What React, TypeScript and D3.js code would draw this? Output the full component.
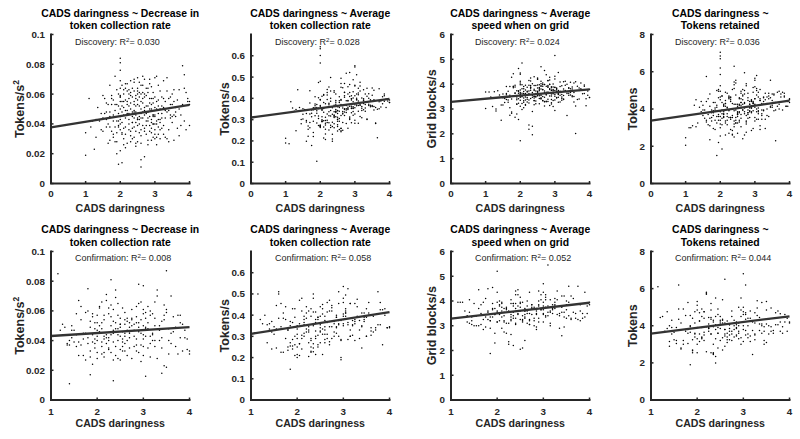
import React from 'react';
import * as d3 from 'd3';

// ---------- DATA ----------
// Discovery sample: CADS daringness (shared x for the top row)
const X_DISC = [
2.45,1.95,2.80,3.10,2.25,1.70,2.60,3.45,2.05,2.90,1.30,2.35,3.00,2.70,1.85,2.15,3.25,2.50,4.00,2.00,
2.65,3.55,1.60,2.30,2.85,2.10,3.15,1.00,2.40,2.95,2.20,3.70,1.90,2.55,3.05,2.75,1.45,2.00,3.35,2.45,
1.80,2.60,3.20,2.35,2.90,3.85,2.15,1.65,2.70,3.00,2.50,2.05,3.40,1.95,2.80,2.25,3.60,2.40,1.10,2.85,
3.10,2.00,2.55,1.75,2.95,3.30,2.20,2.65,3.95,1.85,2.45,3.15,2.10,2.75,1.50,3.50,2.30,2.90,2.60,2.00,
2.35,3.05,1.90,2.80,2.15,3.25,2.50,1.70,3.75,2.70,2.00,2.95,3.40,2.25,1.35,2.60,3.00,2.40,2.85,1.80,
3.20,2.55,2.05,3.65,2.75,1.95,2.30,3.10,2.45,1.60,2.90,3.55,2.10,2.65,4.00,2.20,1.85,3.00,2.50,3.35,
2.00,2.80,1.25,2.40,3.15,2.60,1.75,2.95,3.80,2.25,2.70,2.05,3.45,1.90,2.55,3.05,2.35,1.55,2.85,3.25,
2.15,2.65,3.50,1.95,2.45,3.00,2.20,3.90,1.70,2.75,2.50,3.30,2.00,2.90,1.40,3.10,2.30,2.60,3.60,2.10,
2.85,1.80,2.40,3.20,2.55,2.00,3.70,2.25,1.65,2.95,2.70,3.15,2.05,1.00,2.50,3.40,2.35,2.80,1.90,3.05,
2.60,2.15,3.35,1.75,2.45,2.90,3.85,2.00,2.65,1.50,3.25,2.30,2.75,3.00,2.10,1.95,3.55,2.50,2.20,4.00,
1.85,2.70,3.10,2.40,2.00,3.45,2.55,1.60,2.85,3.20,2.25,2.95,1.70,3.65,2.35,2.60,3.00,2.05,1.20,2.80,
3.30,2.15,2.50,1.90,3.05,2.65,2.00,3.75,2.40,1.80,2.90,3.15,2.30,2.70,1.55,3.50,2.10,2.45,3.95,2.60,
2.20,3.00,1.95,2.75,3.40,2.50,2.05,1.45,2.85,3.25,2.35,2.60,3.80,1.75,2.95,2.15,3.10,2.40,2.00,3.60,
2.55,1.85,3.20,2.30,2.80,1.65,3.05,2.45,2.00,3.35,2.70,2.10,1.30,2.90,3.55,2.25,2.65,3.00,1.90,2.50,
3.15,2.40,1.70,2.85,2.05,3.45,2.60,2.20,3.90,1.95,2.75,3.10,2.35,1.50,2.95,3.30,2.15,2.55,2.00,3.70,
2.30,2.90,1.80,3.05,2.50,2.10,3.25,2.65,1.15,2.80,3.50,2.45,2.00,3.00,2.70,1.60,3.85,2.25,2.95,2.40];

const DISC_DECREASE = [
.052,.038,.061,.033,.047,.029,.055,.044,.066,.041,.031,.058,.036,.049,.053,.024,.057,.043,.039,.081,
.044,.063,.048,.035,.070,.051,.030,.034,.062,.046,.027,.050,.042,.068,.055,.039,.036,.059,.048,.041,
.056,.032,.052,.045,.037,.073,.064,.040,.058,.049,.071,.033,.057,.047,.026,.060,.045,.038,.057,.054,
.066,.045,.040,.035,.061,.031,.053,.072,.055,.028,.048,.043,.037,.052,.044,.060,.069,.034,.047,.022,
.041,.050,.063,.029,.056,.039,.062,.048,.046,.035,.076,.057,.028,.043,.051,.066,.030,.053,.045,.031,
.047,.058,.041,.037,.064,.052,.032,.056,.025,.043,.050,.046,.060,.039,.055,.049,.038,.071,.044,.062,
.084,.042,.023,.055,.036,.027,.057,.045,.079,.063,.051,.034,.053,.020,.061,.042,.048,.057,.067,.033,
.044,.054,.041,.060,.035,.040,.067,.061,.045,.047,.028,.055,.050,.065,.042,.038,.059,.016,.051,.030,
.039,.046,.070,.044,.052,.058,.063,.036,.027,.054,.046,.062,.048,.019,.060,.036,.030,.044,.034,.072,
.050,.067,.030,.053,.046,.029,.042,.040,.061,.035,.050,.054,.033,.058,.026,.042,.055,.039,.047,.053,
.049,.060,.052,.031,.036,.058,.043,.054,.050,.037,.052,.040,.066,.056,.064,.011,.045,.055,.042,.064,
.044,.038,.053,.053,.031,.048,.069,.039,.044,.033,.057,.050,.028,.070,.047,.053,.063,.059,.057,.036,
.055,.033,.039,.042,.049,.056,.014,.047,.035,.051,.041,.060,.053,.059,.046,.033,.043,.068,.064,.048,
.034,.072,.058,.050,.048,.053,.026,.057,.043,.071,.037,.055,.043,.053,.029,.040,.066,.051,.028,.043,
.041,.048,.038,.057,.052,.046,.044,.062,.036,.013,.059,.047,.037,.059,.031,.049,.049,.045,.058,.032,
.061,.043,.042,.040,.064,.046,.069,.057,.038,.052,.045,.027,.055,.046,.018,.038,.064,.057,.040,.049];

const DISC_RATE = [
.382,.305,.421,.448,.337,.262,.395,.361,.290,.412,.248,.356,.327,.470,.318,.232,.389,.343,.392,.275,
.365,.438,.296,.401,.312,.352,.476,.213,.281,.384,.427,.351,.330,.293,.365,.518,.281,.392,.410,.338,
.347,.452,.309,.268,.398,.421,.375,.222,.336,.547,.302,.410,.372,.272,.455,.318,.357,.436,.187,.301,
.388,.480,.254,.345,.431,.371,.297,.355,.398,.356,.420,.315,.265,.389,.325,.449,.343,.285,.494,.270,
.325,.401,.371,.358,.207,.346,.292,.378,.387,.427,.633,.355,.400,.377,.440,.260,.412,.322,.363,.221,
.354,.381,.294,.215,.351,.403,.498,.366,.314,.198,.332,.362,.415,.250,.380,.286,.408,.461,.342,.303,
.601,.352,.340,.262,.434,.391,.178,.361,.407,.453,.319,.292,.368,.105,.408,.374,.231,.348,.521,.392,
.283,.330,.415,.475,.372,.356,.416,.397,.327,.367,.247,.340,.270,.352,.357,.425,.386,.248,.282,.335,
.409,.292,.337,.362,.340,.566,.384,.285,.255,.402,.351,.368,.300,.190,.360,.422,.199,.390,.284,.511,
.320,.275,.447,.314,.390,.398,.386,.263,.450,.351,.376,.263,.345,.458,.214,.353,.345,.301,.442,.380,
.365,.429,.340,.316,.642,.393,.357,.289,.465,.343,.251,.321,.436,.349,.288,.371,.553,.314,.355,.387,
.355,.296,.276,.342,.420,.338,.271,.359,.318,.240,.392,.458,.274,.348,.347,.362,.381,.334,.387,.243,
.395,.370,.317,.282,.366,.311,.344,.301,.428,.398,.361,.258,.375,.330,.487,.311,.283,.368,.268,.284,
.305,.374,.402,.434,.260,.270,.394,.348,.366,.301,.405,.295,.348,.363,.393,.372,.327,.283,.357,.268,
.370,.429,.286,.307,.348,.388,.470,.327,.357,.352,.334,.417,.209,.303,.352,.420,.255,.389,.360,.445,
.317,.355,.356,.393,.329,.418,.440,.286,.384,.348,.367,.340,.395,.297,.412,.329,.412,.363,.338,.310];

const DISC_SPEED = [
3.72,3.41,3.95,3.58,3.24,3.05,4.12,3.66,3.82,3.38,2.92,3.55,4.21,3.47,3.89,3.15,3.71,3.97,3.80,4.05,
3.33,4.05,3.62,3.88,3.52,3.27,3.91,3.02,4.30,3.64,3.46,3.75,2.80,3.98,3.44,4.38,2.55,3.56,3.69,3.21,
3.90,3.60,3.35,4.02,3.76,3.92,3.18,3.36,4.55,3.51,3.85,2.98,3.63,4.63,3.30,3.72,4.10,3.44,3.68,3.99,
3.47,3.11,3.84,4.28,3.61,3.96,3.39,3.78,3.55,2.67,3.32,4.09,3.70,3.57,3.16,3.49,4.13,3.25,3.93,4.45,
3.58,3.82,3.20,4.15,3.62,3.40,3.71,3.48,3.82,3.30,3.66,3.89,3.55,2.36,3.73,4.02,3.36,3.80,3.14,3.53,
3.94,3.42,4.85,3.38,3.67,3.23,3.84,4.47,3.59,3.57,3.20,3.66,3.91,3.50,3.46,3.28,3.96,3.75,4.20,3.62,
3.51,3.88,3.69,3.17,3.55,4.70,2.88,3.74,3.61,3.96,3.12,3.52,4.08,3.44,3.73,3.85,2.90,3.26,4.00,3.38,
3.36,3.92,3.81,3.70,3.48,4.32,3.57,3.13,3.91,3.29,3.65,3.75,1.72,3.90,3.56,3.61,4.25,3.40,2.01,3.62,
3.79,4.42,3.33,3.58,3.87,3.47,3.40,4.15,3.71,3.10,3.99,3.66,3.22,3.68,3.53,3.86,3.47,4.14,3.37,3.71,
3.44,3.77,4.00,2.83,3.95,3.52,3.97,4.40,3.34,3.60,4.10,3.88,3.57,2.94,3.82,3.63,3.28,4.25,3.71,3.46,
3.63,3.29,3.74,3.95,3.98,3.56,3.21,3.91,3.82,3.48,3.36,4.01,2.75,3.92,3.66,3.54,5.15,3.49,3.10,3.39,
4.12,3.59,4.21,3.73,3.46,3.79,3.35,4.05,3.50,3.86,3.60,3.28,3.95,3.72,3.42,3.89,3.05,3.62,3.72,3.93,
3.88,3.58,2.58,3.31,3.84,3.69,3.98,3.16,4.28,3.54,1.96,3.81,3.77,3.40,3.67,3.48,3.27,3.74,3.61,3.12,
3.53,3.64,3.42,3.76,3.90,3.27,3.80,3.50,4.12,2.74,3.99,3.33,3.00,3.76,3.50,3.62,4.05,3.87,3.19,3.58,
3.71,3.34,3.55,4.17,3.63,3.82,3.43,3.68,3.41,3.73,3.92,3.64,2.31,3.45,3.34,3.71,3.96,3.78,3.56,3.85,
3.42,3.86,3.92,3.71,3.54,3.44,3.81,3.99,3.48,3.68,3.53,3.60,3.77,3.88,3.65,3.38,3.62,2.18,3.79,3.51];

const DISC_TOKENS = [
4.25,3.60,4.85,3.45,3.90,3.10,4.55,4.15,4.70,3.80,3.05,4.30,5.20,4.05,2.90,3.35,4.60,3.70,4.35,5.85,
3.95,4.80,3.30,4.60,3.55,4.20,4.45,2.45,3.20,4.90,3.75,4.95,4.10,3.40,5.10,2.75,3.85,4.50,4.00,3.25,
3.65,4.35,3.95,2.60,4.40,4.70,4.90,3.15,3.75,5.55,4.05,3.50,4.85,2.20,3.70,4.55,3.95,3.35,3.00,4.25,
4.65,3.20,4.20,3.80,4.15,2.95,3.60,4.75,4.40,4.35,3.55,5.05,4.25,3.30,3.65,4.10,4.50,2.85,4.85,3.40,
4.00,3.85,5.00,3.50,4.45,3.90,2.70,4.15,4.80,3.85,6.85,4.30,3.60,4.65,3.25,4.95,3.35,5.45,4.05,2.95,
3.75,4.60,3.15,4.15,5.25,3.70,4.40,3.90,3.25,4.40,4.05,4.75,3.60,2.40,4.55,4.85,3.95,3.55,4.15,4.30,
6.70,3.80,4.20,2.50,4.45,4.20,3.35,5.15,3.95,4.70,4.30,3.75,4.10,1.50,4.55,3.45,5.05,3.50,3.85,4.25,
3.25,4.50,4.45,5.05,3.95,4.25,3.40,4.15,2.35,5.35,3.70,3.45,4.65,3.85,4.10,4.90,3.45,4.05,2.30,3.55,
4.40,3.90,5.30,3.65,3.30,6.20,4.00,3.55,4.55,4.30,5.00,3.10,4.70,2.05,3.85,4.55,2.85,3.95,3.60,4.75,
3.70,2.60,4.65,3.55,5.55,4.05,4.85,3.00,4.25,3.95,4.40,4.65,3.20,4.20,3.75,4.95,4.35,3.80,4.05,4.50,
3.40,4.80,3.85,3.05,7.05,4.60,4.25,5.75,4.10,3.45,4.60,3.90,4.80,4.90,2.65,3.50,5.65,4.35,3.10,3.80,
4.85,4.30,3.60,4.20,5.80,3.95,3.60,4.65,4.25,3.80,4.50,2.90,3.55,5.95,3.95,4.20,3.70,4.75,4.15,3.05,
4.10,4.55,3.40,3.65,4.70,3.25,1.85,4.40,3.90,4.65,3.55,4.10,4.90,3.95,4.35,4.30,3.75,6.30,4.95,4.35,
3.85,4.05,4.30,2.90,4.60,3.70,4.00,5.40,3.85,3.65,4.35,4.15,4.50,4.45,3.90,2.70,5.05,4.55,3.25,3.75,
4.55,3.90,3.50,4.25,3.95,5.55,4.35,3.15,4.15,4.60,3.35,4.05,3.65,4.20,2.95,4.50,4.15,3.80,2.55,4.25,
3.55,4.15,4.35,5.00,4.25,3.85,3.95,4.70,3.00,4.45,4.80,3.40,5.25,4.10,2.60,3.40,4.65,3.95,4.40,5.10];

// Confirmation sample: CADS daringness (shared x for the bottom row)
const X_CONF = [
2.25,1.85,3.00,2.60,1.40,3.35,2.10,2.75,3.80,1.95,2.40,3.15,2.55,1.65,2.90,3.50,2.20,1.15,2.70,3.05,
2.35,3.25,1.75,2.50,2.95,2.00,3.60,2.30,1.50,2.85,3.10,2.15,3.95,1.90,2.65,2.45,3.40,1.30,2.80,2.05,
3.20,2.40,1.80,2.70,3.55,2.25,1.60,2.95,2.10,3.00,2.55,3.75,1.45,2.35,3.30,2.60,2.00,3.85,2.85,1.70,
2.20,3.05,2.50,1.95,3.45,2.75,1.35,2.30,3.15,2.05,2.90,3.65,1.85,2.45,3.00,2.65,1.55,3.25,2.15,4.00,
2.80,1.90,2.35,3.50,2.60,1.45,3.10,2.25,2.95,1.75,3.40,2.50,2.00,3.90,2.70,1.60,2.40,3.20,2.10,2.85,
3.00,2.15,1.65,2.55,3.35,2.30,3.70,1.80,2.75,2.40,3.15,1.25,2.60,3.55,2.05,2.90,2.20,3.05,1.95,3.45,
2.45,3.25,1.85,2.65,2.00,3.00,2.35,1.40,3.80,2.55,2.10,3.30,2.80,1.70,2.95,2.25,3.60,2.50,1.90,3.10,
2.30,2.85,3.50,1.55,2.40,3.05,2.15,2.70,1.80,3.40,2.60,3.95,2.05,2.90,1.50,2.35,3.20,2.50,3.75,2.00,
2.65,1.95,3.15,2.25,2.80,1.60,3.45,2.40,3.00,2.10,1.35,2.75,3.65,2.30,2.55,3.25,1.85,2.95,2.20,3.85,
2.50,3.10,1.75,2.35,3.55,2.70,2.00,1.45,3.30,2.60,2.15,2.90,3.70,1.90,2.45,3.05,2.25,1.65,2.85,3.40,
2.40,1.80,3.20,2.55,2.05,3.00,2.70,1.20,3.50,2.30,2.85,2.10,3.90,1.95,2.65,3.15,2.45,1.70,3.35,2.20,
3.05,2.35,1.85,2.75,3.60,2.50,2.00,3.25,1.55,2.90,2.15,3.45,2.60,1.40,3.00,2.30,3.80,2.45,1.90,4.00];

const CONF_DECREASE = [
.062,.017,.058,.033,.011,.040,.048,.054,.052,.035,.069,.029,.046,.063,.078,.087,.038,.085,.042,.016,
.013,.055,.045,.051,.037,.028,.070,.081,.039,.052,.063,.043,.041,.056,.030,.065,.018,.049,.036,.046,
.045,.036,.075,.049,.031,.058,.039,.026,.052,.044,.062,.057,.050,.027,.074,.038,.032,.033,.041,.045,
.067,.048,.034,.041,.023,.055,.038,.044,.060,.063,.032,.046,.053,.040,.077,.047,.058,.036,.029,.031,
.051,.024,.047,.061,.059,.042,.035,.040,.066,.027,.053,.043,.057,.042,.052,.067,.030,.040,.036,.056,
.030,.054,.037,.041,.047,.064,.049,.060,.028,.046,.043,.051,.054,.040,.045,.049,.071,.055,.038,.064,
.028,.040,.049,.055,.043,.036,.061,.040,.042,.033,.039,.070,.047,.030,.054,.042,.045,.051,.058,.048,
.050,.037,.022,.044,.074,.059,.032,.046,.042,.035,.051,.034,.062,.052,.047,.039,.058,.027,.031,.047,
.040,.052,.057,.035,.043,.030,.057,.052,.041,.066,.037,.061,.056,.046,.036,.050,.029,.045,.042,.051,
.055,.052,.059,.053,.048,.045,.040,.047,.028,.043,.057,.065,.036,.039,.044,.049,.034,.054,.033,.042,
.048,.038,.044,.039,.050,.061,.035,.047,.059,.056,.063,.031,.047,.048,.053,.038,.057,.041,.050,.044,
.043,.045,.033,.050,.038,.049,.052,.066,.036,.046,.041,.054,.045,.037,.050,.032,.057,.048,.044,.033];

const CONF_RATE = [
.345,.255,.480,.395,.360,.290,.305,.420,.460,.210,.380,.330,.450,.225,.510,.300,.410,.500,.275,.420,
.228,.370,.440,.325,.285,.250,.340,.430,.310,.400,.525,.365,.340,.240,.460,.390,.245,.400,.300,.360,
.355,.300,.250,.470,.400,.205,.510,.280,.350,.395,.215,.355,.370,.480,.440,.310,.335,.260,.390,.225,
.320,.410,.270,.430,.380,.345,.270,.395,.300,.470,.360,.320,.145,.250,.535,.290,.335,.455,.380,.345,
.370,.255,.500,.430,.330,.320,.285,.420,.200,.380,.410,.355,.290,.400,.260,.500,.215,.350,.240,.340,
.405,.395,.455,.310,.375,.290,.340,.235,.435,.415,.300,.360,.270,.460,.210,.355,.335,.495,.390,.390,
.390,.360,.350,.415,.200,.460,.245,.325,.425,.335,.290,.395,.320,.410,.375,.330,.305,.440,.285,.355,
.230,.390,.300,.445,.365,.410,.300,.370,.330,.345,.375,.340,.265,.455,.345,.415,.375,.320,.510,.215,
.310,.260,.455,.270,.360,.385,.370,.325,.350,.480,.355,.290,.395,.225,.405,.380,.270,.190,.440,.425,
.340,.365,.290,.350,.410,.420,.310,.240,.475,.285,.355,.300,.330,.365,.380,.430,.320,.345,.345,.350,
.290,.330,.305,.430,.265,.380,.345,.380,.390,.280,.315,.420,.430,.300,.365,.455,.260,.385,.330,.385,
.395,.265,.370,.445,.325,.395,.350,.280,.245,.375,.315,.410,.345,.335,.360,.250,.355,.305,.430,.340];

const CONF_SPEED = [
3.55,3.20,4.35,3.70,4.05,2.90,3.35,3.85,3.60,2.70,4.25,3.10,3.95,3.05,4.40,3.30,3.75,3.95,3.20,4.15,
3.40,3.95,2.95,3.60,4.25,3.15,3.25,4.05,3.90,3.45,5.45,3.55,3.80,4.55,3.10,4.45,2.60,3.60,3.75,3.45,
3.85,3.05,4.50,3.50,3.40,2.25,3.70,4.05,3.95,3.80,2.10,4.60,3.35,3.90,4.40,3.30,3.15,3.50,2.95,3.25,
3.65,3.35,3.90,2.30,4.20,3.70,3.15,2.65,3.55,4.00,3.30,4.10,1.88,3.45,4.70,3.60,3.40,3.85,3.20,3.95,
3.20,3.35,3.55,4.00,3.45,3.05,3.80,2.35,3.70,4.10,3.55,3.25,3.95,3.35,4.35,4.45,3.10,3.65,3.75,3.50,
3.95,3.70,3.85,3.15,3.40,3.90,3.50,3.25,3.75,3.30,3.00,3.95,3.60,4.60,3.20,3.80,2.70,4.25,3.45,3.35,
3.50,3.70,3.20,4.00,5.20,3.45,3.30,3.55,3.85,3.25,3.60,4.05,3.00,3.95,3.65,3.55,4.20,3.95,3.70,3.40,
3.25,3.60,3.85,3.40,4.40,3.75,3.15,3.05,3.60,4.20,3.35,3.50,3.80,3.15,3.00,2.20,3.50,2.05,3.25,4.35,
3.80,3.45,4.05,3.60,3.30,3.00,2.95,3.70,3.15,3.90,3.40,3.85,3.55,3.20,3.40,4.10,2.90,3.65,3.70,3.30,
4.15,3.55,3.35,3.80,3.95,3.25,3.60,3.20,3.45,3.60,2.75,4.00,3.30,3.90,3.60,3.40,3.10,3.50,2.85,3.75,
3.90,3.55,3.70,3.20,3.85,3.50,3.05,3.95,3.65,3.35,3.70,2.90,4.35,3.70,3.50,3.60,3.80,2.85,3.50,3.10,
4.05,3.90,3.35,3.45,3.30,3.75,3.55,3.80,3.00,3.85,3.40,3.55,2.40,3.10,3.65,3.45,3.20,4.25,3.65,3.85];

const CONF_TOKENS = [
3.90,1.90,4.60,3.45,2.90,4.10,3.30,4.80,3.70,3.60,4.50,3.15,4.35,2.75,5.00,4.85,2.60,6.10,3.25,3.50,
2.50,4.70,3.80,4.10,3.35,2.55,4.95,5.20,3.25,4.05,4.40,3.65,3.70,4.40,3.10,4.90,3.60,3.70,3.40,4.25,
4.20,3.30,5.25,4.05,3.55,3.85,6.20,3.00,4.50,6.80,2.70,4.80,3.90,2.45,5.35,4.15,3.00,3.60,3.90,4.90,
5.80,4.35,3.20,4.75,3.00,4.50,3.85,3.55,4.40,4.70,3.30,3.75,3.95,3.60,4.75,3.40,3.05,4.15,3.20,4.20,
4.00,2.65,4.20,5.30,6.50,3.55,3.35,3.70,4.85,4.55,4.10,3.85,5.10,4.60,3.50,4.35,2.00,3.75,3.35,4.20,
3.15,4.75,2.80,4.30,3.75,4.85,4.70,3.05,3.70,4.05,3.45,4.50,3.80,4.00,3.55,4.00,5.70,6.20,3.55,3.20,
2.80,3.25,4.55,4.25,3.30,4.20,2.55,3.15,4.20,3.35,3.90,4.95,3.80,3.00,5.50,4.10,3.95,4.50,3.25,4.00,
4.45,3.50,3.10,3.90,2.35,4.60,3.50,4.05,3.80,5.25,2.90,4.40,4.25,3.70,3.65,3.95,2.45,4.20,4.05,4.85,
3.60,4.15,4.80,3.85,4.30,4.90,3.70,5.50,4.00,3.40,4.75,3.20,3.60,4.35,4.15,3.50,4.00,4.50,5.75,3.95,
4.30,3.55,3.70,3.00,4.35,3.85,5.30,4.30,4.55,3.80,4.40,3.60,4.05,2.55,3.60,4.70,4.45,4.15,3.45,4.00,
3.80,3.60,4.25,5.40,3.15,5.00,3.70,4.45,4.10,2.55,3.85,4.90,4.20,3.40,3.25,4.25,4.60,3.20,4.45,3.95,
3.75,4.30,3.65,3.55,3.70,4.05,3.90,3.55,3.20,4.15,4.75,3.95,3.55,4.00,3.80,3.55,4.65,3.90,2.70,4.15];

// Titles, labels, ticks, statistics
const TITLE_LINE1 = ['CADS daringness ~ Decrease in', 'CADS daringness ~ Average', 'CADS daringness ~ Average', 'CADS daringness ~'];
const TITLE_LINE2 = ['token collection rate', 'token collection rate', 'speed when on grid', 'Tokens retained'];
const Y_LABELS = ['Tokens/s', 'Tokens/s', 'Grid blocks/s', 'Tokens'];
const Y_LABEL_SUP = ['2', '', '', ''];
const Y_MAX = [0.1, 0.7, 6, 8];
const Y_TICKS = [
  [0, 0.02, 0.04, 0.06, 0.08, 0.1],
  [0, 0.1, 0.2, 0.3, 0.4, 0.5, 0.6],
  [0, 1, 2, 3, 4, 5, 6],
  [0, 2, 4, 6, 8],
];
const X_TICKS_DISC = [0, 1, 2, 3, 4];
const X_TICKS_CONF = [1, 2, 3, 4];
const X_DOMAIN_DISC = [0, 4];
const X_DOMAIN_CONF = [1, 4];
const SAMPLE_NAMES = ['Discovery', 'Confirmation'];
const R2_DISC = ['0.030', '0.028', '0.024', '0.036'];
const R2_CONF = ['0.008', '0.058', '0.052', '0.044'];
// fitted lines: value at left end of x-domain and slope
const FIT_START_DISC = [0.0376, 0.31, 3.29, 3.37];
const FIT_SLOPE_DISC = [0.00378, 0.022, 0.125, 0.27];
const FIT_START_CONF = [0.0431, 0.312, 3.29, 3.58];
const FIT_SLOPE_CONF = [0.00197, 0.034, 0.213, 0.31];

// ---------- LAYOUT ----------
const W = 800;
const H = 439;
const FONT = '"Liberation Sans", Arial, Helvetica, sans-serif';
const AX_LEFT = [51, 251, 451, 651];
const AX_W = 138.5;
const ROWS = [
  { top: 34.5, bottom: 183.5, t1: 17.3, t2: 29.0, sub: 45.0, tick: 196.9, xlab: 211.7 },
  { top: 251.5, bottom: 400, t1: 233.3, t2: 245.7, sub: 261.0, tick: 415.0, xlab: 427.3 },
];
const YLAB_OFFSET = [-31, -26, -19, -18];
const AXIS_COLOR = '#262626';

type PanelProps = {
  row: number;
  col: number;
  xs: number[];
  ys: number[];
  xDomain: number[];
  xTicks: number[];
  fitStart: number;
  fitSlope: number;
  r2: string;
};

function Panel({ row, col, xs, ys, xDomain, xTicks, fitStart, fitSlope, r2 }: PanelProps) {
  const L = ROWS[row];
  const left = AX_LEFT[col];
  const right = left + AX_W;
  const x = d3.scaleLinear().domain(xDomain).range([left, right]);
  const y = d3.scaleLinear().domain([0, Y_MAX[col]]).range([L.bottom, L.top]);
  const n = Math.min(xs.length, ys.length);
  const pts = d3.range(n).map((i) => [xs[i], ys[i]] as [number, number]);
  const x0 = xDomain[0];
  const x1 = xDomain[1];
  const fitPts: [number, number][] = [
    [x0, fitStart],
    [x1, fitStart + fitSlope * (x1 - x0)],
  ];
  const line = d3
    .line<[number, number]>()
    .x((d) => x(d[0]))
    .y((d) => y(d[1]));
  const cx = (left + right) / 2;
  const cy = (L.top + L.bottom) / 2;
  const tickLen = 2.5;
  return (
    <g>
      {/* titles */}
      <text x={cx} y={L.t1} textAnchor="middle" fontFamily={FONT} fontWeight="bold" fontSize={10.4} fill="#000">
        {TITLE_LINE1[col]}
      </text>
      <text x={cx} y={L.t2} textAnchor="middle" fontFamily={FONT} fontWeight="bold" fontSize={10.4} fill="#000">
        {TITLE_LINE2[col]}
      </text>
      {/* points */}
      <g fill="#000">
        {pts.map((p, i) => (
          <circle key={i} cx={x(p[0])} cy={y(p[1])} r={0.75} />
        ))}
      </g>
      {/* fit line */}
      <path d={line(fitPts) || ''} stroke="#333333" strokeWidth={2.3} fill="none" />
      {/* subtitle */}
      <text x={left + 24} y={L.sub} fontFamily={FONT} fontSize={9} fill="#262626">
        {SAMPLE_NAMES[row]}: R
        <tspan dy={-3.5} fontSize={6.2}>2</tspan>
        <tspan dy={3.5}>= {r2}</tspan>
      </text>
      {/* axes */}
      <path
        d={`M${left},${L.top}V${L.bottom}H${right}`}
        stroke={AXIS_COLOR}
        strokeWidth={2}
        fill="none"
        strokeLinejoin="miter"
        strokeLinecap="square"
      />
      {xTicks.map((t) => (
        <g key={'xt' + t}>
          <line x1={x(t)} x2={x(t)} y1={L.bottom} y2={L.bottom - tickLen} stroke={AXIS_COLOR} strokeWidth={1.5} />
          <text x={x(t)} y={L.tick} textAnchor="middle" fontFamily={FONT} fontWeight="bold" fontSize={9.8} fill={AXIS_COLOR}>
            {String(t)}
          </text>
        </g>
      ))}
      {Y_TICKS[col].map((t) => (
        <g key={'yt' + t}>
          <line x1={left} x2={left + tickLen} y1={y(t)} y2={y(t)} stroke={AXIS_COLOR} strokeWidth={1.5} />
          <text
            x={left - 6}
            y={y(t)}
            dy="0.35em"
            textAnchor="end"
            fontFamily={FONT}
            fontWeight="bold"
            fontSize={9.8}
            fill={AXIS_COLOR}
          >
            {String(t)}
          </text>
        </g>
      ))}
      {/* axis labels */}
      <text x={cx} y={L.xlab} textAnchor="middle" fontFamily={FONT} fontWeight="bold" fontSize={10.6} fill={AXIS_COLOR}>
        CADS daringness
      </text>
      <text
        transform={`translate(${left + YLAB_OFFSET[col]},${cy}) rotate(-90)`}
        dy="0.35em"
        textAnchor="middle"
        fontFamily={FONT}
        fontWeight="bold"
        fontSize={12.5}
        fill={AXIS_COLOR}
      >
        {Y_LABELS[col]}
        {Y_LABEL_SUP[col] ? (
          <tspan dy={-5} fontSize={8.5}>
            {Y_LABEL_SUP[col]}
          </tspan>
        ) : null}
      </text>
    </g>
  );
}

export default function App() {
  const discY = [DISC_DECREASE, DISC_RATE, DISC_SPEED, DISC_TOKENS];
  const confY = [CONF_DECREASE, CONF_RATE, CONF_SPEED, CONF_TOKENS];
  return (
    <svg
      width={W}
      height={H}
      viewBox={`0 0 ${W} ${H}`}
      style={{ position: 'absolute', left: 0, top: 0, display: 'block', background: '#fff' }}
    >
      <rect width={W} height={H} fill="#fff" />
      {discY.map((ys, c) => (
        <Panel
          key={'d' + c}
          row={0}
          col={c}
          xs={X_DISC}
          ys={ys}
          xDomain={X_DOMAIN_DISC}
          xTicks={X_TICKS_DISC}
          fitStart={FIT_START_DISC[c]}
          fitSlope={FIT_SLOPE_DISC[c]}
          r2={R2_DISC[c]}
        />
      ))}
      {confY.map((ys, c) => (
        <Panel
          key={'c' + c}
          row={1}
          col={c}
          xs={X_CONF}
          ys={ys}
          xDomain={X_DOMAIN_CONF}
          xTicks={X_TICKS_CONF}
          fitStart={FIT_START_CONF[c]}
          fitSlope={FIT_SLOPE_CONF[c]}
          r2={R2_CONF[c]}
        />
      ))}
    </svg>
  );
}
